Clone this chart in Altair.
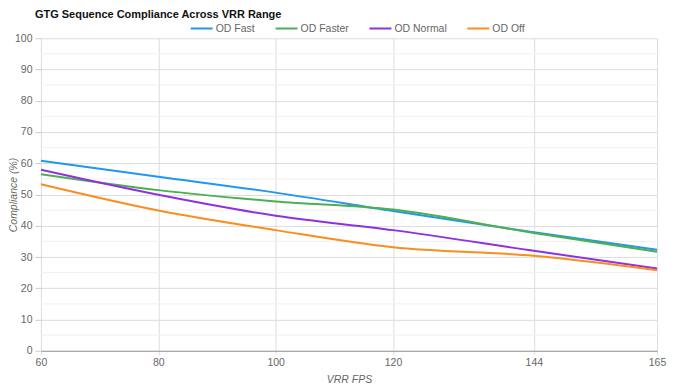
import altair as alt
import pandas as pd

fps = [60, 80, 100, 120, 144, 165]
od_fast = [60.8, 55.7, 50.6, 44.7, 37.9, 32.3]
od_faster = [56.5, 51.4, 47.8, 45.2, 37.7, 31.7]
od_normal = [57.9, 49.9, 43.2, 38.6, 32.0, 26.3]
od_off = [53.3, 44.9, 38.6, 33.1, 30.4, 25.8]
series = ["OD Fast", "OD Faster", "OD Normal", "OD Off"]
colors = ["#2196f3", "#4caf50", "#9030e0", "#fb8c1e"]
major_ticks = [0, 10, 20, 30, 40, 50, 60, 70, 80, 90, 100]
minor_ticks = [5, 15, 25, 35, 45, 55, 65, 75, 85, 95]

rows = []
for name, vals in zip(series, [od_fast, od_faster, od_normal, od_off]):
    for f, v in zip(fps, vals):
        rows.append({"fps": f, "value": v, "series": name})
df = pd.DataFrame(rows)

font = "Liberation Sans"
FS = 10.5

y_axis = alt.Axis(
    values=major_ticks, title="Compliance (%)", titleFontStyle="italic",
    titleFontWeight="normal", titleFontSize=10.5, titleColor="#666",
    labelColor="#666", labelFontSize=FS, domain=False, tickColor="#ccc",
    gridColor="#ddd", tickSize=6, labelPadding=3, titleX=-22,
    labelOverlap=False, labelFlush=False,
)
y_scale = alt.Scale(domain=[0, 100])

minor = alt.Chart(pd.DataFrame({"value": minor_ticks})).mark_rule(
    color="#f0f0f0", strokeWidth=1
).encode(y=alt.Y("value:Q", scale=y_scale, axis=y_axis))

lines = alt.Chart(df).mark_line(interpolate="monotone", strokeWidth=2).encode(
    x=alt.X(
        "fps:Q",
        scale=alt.Scale(domain=[60, 165], nice=False, zero=False),
        axis=alt.Axis(
            values=fps, title="VRR FPS", titleFontStyle="italic", titleFontWeight="normal",
            titleFontSize=10.5, titleColor="#666", labelColor="#666", labelFontSize=FS,
            domainColor="#999", tickColor="#ddd", gridColor="#ddd", tickSize=4,
            titlePadding=6, labelPadding=3, labelOverlap=False, labelFlush=False,
        ),
    ),
    y=alt.Y("value:Q", scale=y_scale, axis=y_axis),
    color=alt.Color(
        "series:N",
        scale=alt.Scale(domain=series, range=colors),
        legend=alt.Legend(
            title=None, orient="none", direction="horizontal", legendX=149, legendY=-22,
            symbolType="stroke", symbolSize=484, symbolStrokeWidth=2,
            labelFontSize=FS, labelColor="#666", columnPadding=16, labelOffset=2,
        ),
    ),
)

chart = (
    alt.layer(minor, lines)
    .properties(
        width=617,
        height=313,
        autosize=alt.AutoSizeParams(type="none"),
        padding={"left": 33, "top": 30, "right": 10, "bottom": 38},
        title=alt.TitleParams(
            "GTG Sequence Compliance Across VRR Range", anchor="start", frame="group",
            fontSize=11, fontWeight="bold", color="#111", font=font, dx=-6, offset=-4,
        ),
    )
    .configure(font=font)
    .configure_view(stroke=None)
)

chart.save("out.html", embed_options={"renderer": "svg", "actions": False})
